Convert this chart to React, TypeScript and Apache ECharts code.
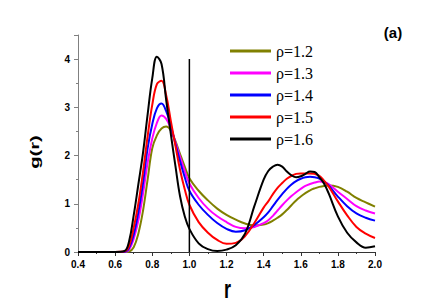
import React, { useEffect, useRef } from "react";
import * as echarts from "echarts";

const rValues = [0.4, 0.6, 0.65, 0.675, 0.7, 0.725, 0.75, 0.775, 0.8, 0.825, 0.85, 0.875, 0.9, 0.925, 0.95, 0.975, 1.0, 1.05, 1.1, 1.15, 1.2, 1.25, 1.3, 1.35, 1.4, 1.425, 1.45, 1.475, 1.5, 1.525, 1.55, 1.575, 1.6, 1.625, 1.65, 1.675, 1.7, 1.725, 1.75, 1.8, 1.85, 1.9, 1.95, 2.0];

const g12 = [0, 0, 0, 0.01, 0.1, 0.38, 0.85, 1.5, 2.15, 2.42, 2.56, 2.6, 2.52, 2.3, 2.03, 1.77, 1.53, 1.27, 1.07, 0.9, 0.77, 0.67, 0.59, 0.55, 0.57, 0.6, 0.65, 0.71, 0.78, 0.87, 0.97, 1.07, 1.15, 1.22, 1.28, 1.32, 1.35, 1.37, 1.38, 1.35, 1.25, 1.12, 1.03, 0.94];
const g13 = [0, 0, 0, 0.05, 0.27, 0.65, 1.2, 1.85, 2.35, 2.68, 2.83, 2.76, 2.56, 2.27, 1.97, 1.68, 1.42, 1.12, 0.9, 0.74, 0.62, 0.52, 0.49, 0.52, 0.6, 0.66, 0.75, 0.86, 0.97, 1.07, 1.16, 1.24, 1.31, 1.37, 1.41, 1.44, 1.46, 1.45, 1.41, 1.25, 1.1, 0.95, 0.86, 0.8];
const g14 = [0, 0, 0, 0.08, 0.36, 0.82, 1.42, 2.15, 2.65, 2.98, 3.08, 2.92, 2.62, 2.24, 1.88, 1.55, 1.27, 0.98, 0.77, 0.6, 0.48, 0.42, 0.45, 0.56, 0.72, 0.82, 0.95, 1.08, 1.2, 1.31, 1.4, 1.47, 1.52, 1.55, 1.56, 1.55, 1.52, 1.46, 1.38, 1.15, 0.95, 0.8, 0.71, 0.65];
const g15 = [0, 0, 0.01, 0.12, 0.5, 1.0, 1.65, 2.4, 3.05, 3.48, 3.55, 3.25, 2.72, 2.2, 1.7, 1.3, 0.98, 0.62, 0.4, 0.25, 0.17, 0.19, 0.33, 0.6, 0.92, 1.05, 1.2, 1.33, 1.43, 1.52, 1.58, 1.62, 1.63, 1.63, 1.63, 1.62, 1.58, 1.48, 1.36, 1.05, 0.76, 0.52, 0.38, 0.29];
const g16 = [0, 0, 0.02, 0.22, 0.76, 1.4, 2.05, 2.85, 3.6, 4.05, 3.9, 3.15, 2.45, 1.78, 1.15, 0.74, 0.48, 0.18, 0.06, 0.02, 0.05, 0.14, 0.38, 0.95, 1.5, 1.68, 1.77, 1.81, 1.77, 1.67, 1.59, 1.55, 1.57, 1.62, 1.67, 1.66, 1.55, 1.42, 1.22, 0.74, 0.4, 0.2, 0.09, 0.12];

const seriesNames = ["ρ=1.2", "ρ=1.3", "ρ=1.4", "ρ=1.5", "ρ=1.6"];
const seriesColors = ["#808000", "#ff00ff", "#0000ff", "#ff0000", "#000000"];
const seriesValues = [g12, g13, g14, g15, g16];

const refLineR = [1.0, 1.0];
const refLineG = [0, 4.0];

const xTicks = { min: 0.4, max: 2.0, interval: 0.2 };
const yTicks = { min: 0, max: 4.5, interval: 1 };

const SANS = '"Liberation Sans", Arial, sans-serif';
const SERIF = '"Liberation Serif", "Times New Roman", serif';

export default function App() {
  const ref = useRef<HTMLDivElement>(null);
  useEffect(() => {
    if (!ref.current) return;
    const chart = echarts.init(ref.current, null, { renderer: "svg" });
    const lines = seriesNames.map((name, i) => ({
      name,
      type: "line",
      data: rValues.map((r, j) => [r, seriesValues[i][j]]),
      smooth: 0.4,
      showSymbol: false,
      symbol: "none",
      lineStyle: { color: seriesColors[i], width: 2 },
      itemStyle: { color: seriesColors[i] },
      z: 2 + i,
    }));
    chart.setOption({
      animation: false,
      grid: { left: 78, right: 61, top: 35, bottom: 51 },
      legend: {
        data: seriesNames,
        orient: "vertical",
        left: 225,
        top: 38,
        icon: "rect",
        itemWidth: 41,
        itemHeight: 3,
        itemGap: 6,
        textStyle: { fontFamily: SERIF, fontSize: 16, color: "#000", lineHeight: 16 },
      },
      xAxis: {
        type: "value",
        min: xTicks.min,
        max: xTicks.max,
        interval: xTicks.interval,
        axisLine: { lineStyle: { color: "#333", width: 1 } },
        axisTick: { show: true, length: 4, lineStyle: { color: "#333" } },
        minorTick: { show: true, splitNumber: 2, length: 2, lineStyle: { color: "#333" } },
        splitLine: { show: false },
        axisLabel: {
          fontFamily: SANS,
          fontWeight: "bold",
          fontSize: 10,
          color: "#000",
          margin: 7,
          formatter: (v: number) => v.toFixed(1),
        },
      },
      yAxis: {
        type: "value",
        min: yTicks.min,
        max: yTicks.max,
        interval: yTicks.interval,
        axisLine: { show: true, lineStyle: { color: "#808080", width: 1 } },
        axisTick: { show: true, length: 4, lineStyle: { color: "#808080" } },
        minorTick: { show: true, splitNumber: 2, length: 2, lineStyle: { color: "#808080" } },
        splitLine: { show: false },
        axisLabel: {
          fontFamily: SANS,
          fontWeight: "bold",
          fontSize: 10,
          color: "#000",
          margin: 8,
          showMaxLabel: false,
        },
      },
      series: [
        ...lines,
        {
          name: "ref",
          type: "line",
          data: refLineR.map((r, j) => [r, refLineG[j]]),
          showSymbol: false,
          symbol: "none",
          lineStyle: { color: "#000", width: 1.5 },
          silent: true,
          z: 10,
        },
      ],
      graphic: [
        {
          type: "text",
          x: 35,
          y: 152,
          rotation: Math.PI / 2,
          scaleX: 1.55,
          style: {
            text: "g(r)",
            font: `bold 13px ${SANS}`,
            textAlign: "center",
            textVerticalAlign: "middle",
            fill: "#000",
          },
        },
        {
          type: "text",
          x: 227.5,
          y: 289.5,
          scaleY: 1.4,
          style: {
            text: "r",
            font: `bold 18px ${SANS}`,
            textAlign: "center",
            textVerticalAlign: "middle",
            fill: "#000",
          },
        },
        {
          type: "text",
          x: 393,
          y: 32,
          style: {
            text: "(a)",
            font: `bold 15px ${SANS}`,
            textAlign: "center",
            textVerticalAlign: "middle",
            fill: "#000",
          },
        },
      ],
    });
    return () => chart.dispose();
  }, []);
  return (
    <div
      ref={ref}
      style={{ position: "fixed", left: 0, top: 0, width: 436, height: 303, background: "#fff" }}
    />
  );
}
